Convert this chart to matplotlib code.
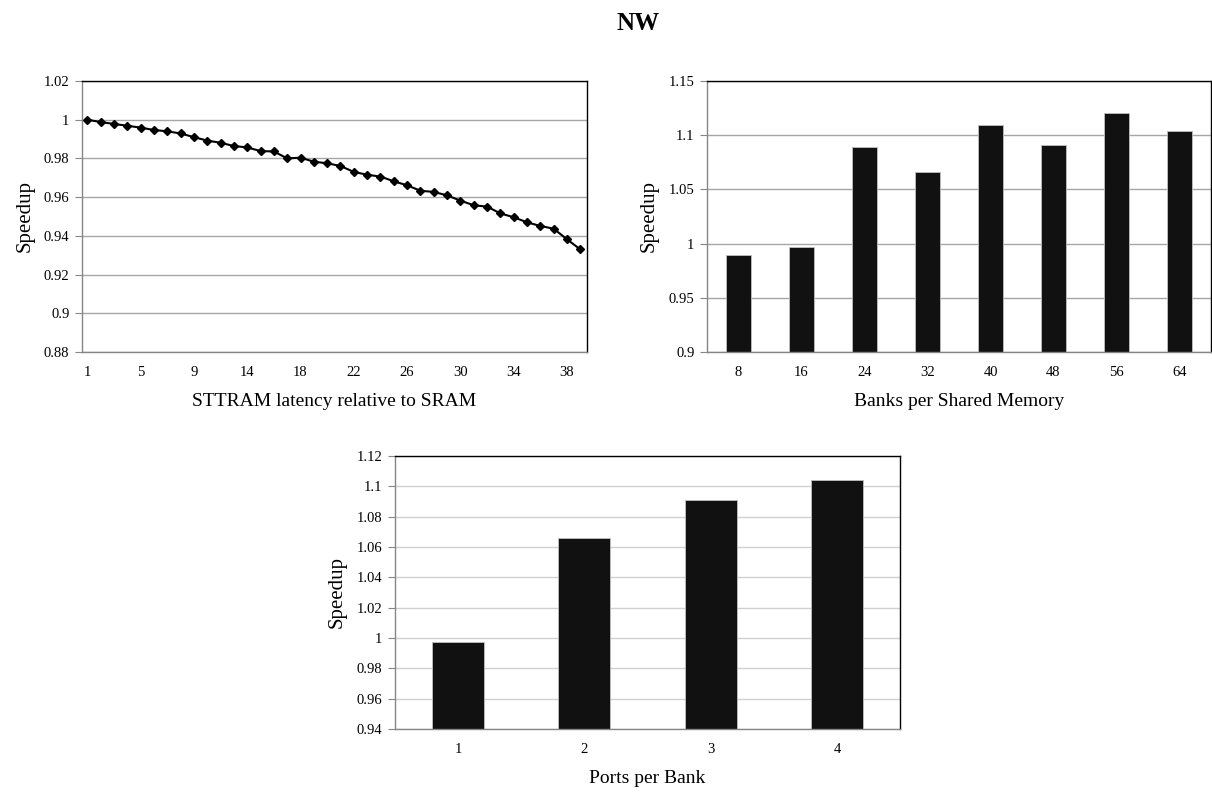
import matplotlib
matplotlib.use("Agg")
import matplotlib.pyplot as plt
import numpy as np

plt.rcParams['font.family'] = ['Liberation Serif', 'DejaVu Serif']

# STTRAM latency sweep (38 points)
latency_ticks = ['1', '5', '9', '14', '18', '22', '26', '30', '34', '38']
latency_speedup = [1.0000, 0.9988, 0.9978, 0.9969, 0.9959, 0.9947, 0.9940, 0.9929,
                   0.9910, 0.9892, 0.9881, 0.9864, 0.9857, 0.9838, 0.9836, 0.9800,
                   0.9804, 0.9783, 0.9775, 0.9761, 0.9730, 0.9716, 0.9706, 0.9682,
                   0.9661, 0.9633, 0.9627, 0.9609, 0.9582, 0.9558, 0.9551, 0.9516,
                   0.9496, 0.9470, 0.9451, 0.9437, 0.9382, 0.9330]

banks = ['8', '16', '24', '32', '40', '48', '56', '64']
banks_speedup = [0.9898, 0.9966, 1.0888, 1.0657, 1.1094, 1.0907, 1.1208, 1.1039]

ports = ['1', '2', '3', '4']
ports_speedup = [0.9971, 1.0660, 1.0912, 1.1045]

W, H = 1212, 792
fig = plt.figure(figsize=(W / 100, H / 100), dpi=100)


def px_axes(left, top, right, bottom):
    return fig.add_axes([left / W, 1 - bottom / H, (right - left) / W, (bottom - top) / H])


def style(ax, grid_color):
    ax.set_axisbelow(True)
    ax.yaxis.grid(True, color=grid_color, linewidth=1.0)
    for s in ['top', 'right']:
        ax.spines[s].set_color('black')
        ax.spines[s].set_linewidth(1.0)
    for s in ['left', 'bottom']:
        ax.spines[s].set_color('#868686')
        ax.spines[s].set_linewidth(1.0)
    ax.tick_params(axis='y', length=5, color='#868686', labelsize=10.5, pad=4)
    ax.tick_params(axis='x', length=0, labelsize=10.5, pad=10)
    ax.set_ylabel('Speedup', fontsize=15, labelpad=7)


fig.text(638 / W, 1 - 24 / H, 'NW', ha='center', va='center', fontsize=18, fontweight='bold')

# chart 1: latency line
ax1 = px_axes(82, 81, 587, 352)
x1 = np.arange(1, len(latency_speedup) + 1)
ax1.plot(x1, latency_speedup, color='black', linewidth=1.5, marker='D', markersize=4)
ax1.set_xlim(0.6, len(latency_speedup) + 0.5)
ax1.set_ylim(0.88, 1.02)
ax1.set_yticks(np.arange(0.88, 1.0201, 0.02))
ax1.set_yticklabels(['0.88', '0.9', '0.92', '0.94', '0.96', '0.98', '1', '1.02'])
ax1.set_xticks(x1[::4])
ax1.set_xticklabels(latency_ticks)
style(ax1, '#a6a6a6')
ax1.set_xlabel('STTRAM latency relative to SRAM', fontsize=14, labelpad=10)

# chart 2: banks
ax2 = px_axes(707, 81, 1211, 352)
x2 = np.arange(len(banks))
ax2.bar(x2, np.array(banks_speedup) - 0.9, bottom=0.9, width=0.41,
        color='#111111', edgecolor='#c0c0c0', linewidth=0.6)
ax2.set_xlim(-0.5, len(banks) - 0.5)
ax2.set_ylim(0.9, 1.15)
ax2.set_yticks([0.9, 0.95, 1.0, 1.05, 1.1, 1.15])
ax2.set_yticklabels(['0.9', '0.95', '1', '1.05', '1.1', '1.15'])
ax2.set_xticks(x2)
ax2.set_xticklabels(banks)
style(ax2, '#a6a6a6')
ax2.set_xlabel('Banks per Shared Memory', fontsize=14, labelpad=10)

# chart 3: ports
ax3 = px_axes(395, 456, 900, 729)
x3 = np.arange(len(ports))
ax3.bar(x3, np.array(ports_speedup) - 0.94, bottom=0.94, width=0.41,
        color='#111111', edgecolor='#c0c0c0', linewidth=0.6)
ax3.set_xlim(-0.5, len(ports) - 0.5)
ax3.set_ylim(0.94, 1.12)
ax3.set_yticks(np.arange(0.94, 1.1201, 0.02))
ax3.set_yticklabels(['0.94', '0.96', '0.98', '1', '1.02', '1.04', '1.06', '1.08', '1.1', '1.12'])
ax3.set_xticks(x3)
ax3.set_xticklabels(ports)
style(ax3, '#d0d0d0')
ax3.set_xlabel('Ports per Bank', fontsize=14, labelpad=10)

fig.savefig('out.png', dpi=100)
